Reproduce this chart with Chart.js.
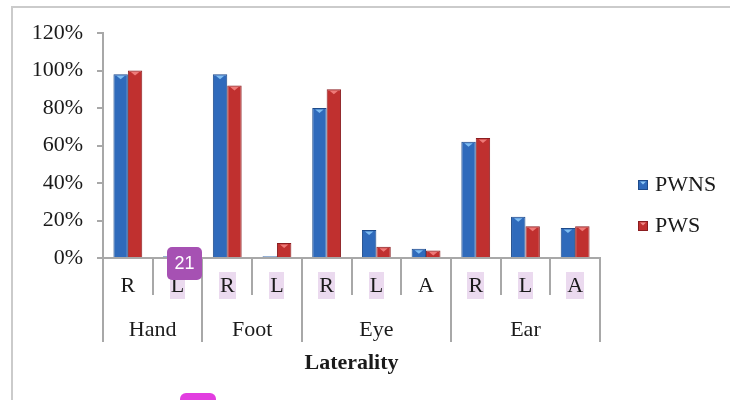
<!DOCTYPE html>
<html><head><meta charset="utf-8">
<script src="https://cdn.jsdelivr.net/npm/chart.js@4.4.1/dist/chart.umd.min.js"></script>
<style>html,body{margin:0;padding:0;background:#fff}#wrap{position:relative;width:730px;height:400px}</style>
</head><body><div id="wrap"><canvas id="c" width="730" height="400"></canvas></div>
<script>
const categories = ['R','L','R','L','R','L','A','R','L','A'];
const groups = ['Hand','Foot','Eye','Ear'];
const groupSizes = [2,2,3,3];
const seriesNames = ['PWNS','PWS'];
const pwns = [98,1,98,1,80,15,5,62,22,16];
const pws  = [100,0,92,8,90,6,4,64,17,17];
const yTicks = [0,20,40,60,80,100,120];
const highlighted = [1,2,3,4,5,7,8,9];
const axisTitle = 'Laterality';
const badgeText = '21';

const SERIF = '"Liberation Serif","Times New Roman",serif';
const FS = 22;
const TXT = '#1a1a1a';
const LINE = '#a8a8a8';

const deco = {
  id: 'deco',
  beforeDraw(chart) {
    const ctx = chart.ctx, xs = chart.scales.x, ca = chart.chartArea;
    ctx.save();
    ctx.fillStyle = '#fff'; ctx.fillRect(0, 0, chart.width, chart.height);
    ctx.strokeStyle = '#cbcbcb'; ctx.lineWidth = 2;
    ctx.strokeRect(12, 7, 760, 430);
    ctx.font = FS + 'px ' + SERIF;
    ctx.fillStyle = '#ebdaef';
    highlighted.forEach(i => {
      const cx = xs.getPixelForValue(i);
      const w = ctx.measureText(categories[i]).width + 2;
      ctx.fillRect(Math.round(cx - w / 2), ca.bottom + 14, Math.round(w), 27);
    });
    ctx.restore();
  },
  afterDatasetsDraw(chart) {
    const ctx = chart.ctx;
    const tops = ['#7fbdf2', '#ee7a78'];
    ctx.save();
    chart.data.datasets.forEach((ds, di) => {
      chart.getDatasetMeta(di).data.forEach(el => {
        const p = el.getProps(['x', 'y', 'base', 'width'], true);
        if (p.base - p.y < 6) return;
        ctx.fillStyle = tops[di];
        ctx.beginPath();
        ctx.moveTo(p.x - p.width / 2 + 3, p.y + 1.5);
        ctx.lineTo(p.x + p.width / 2 - 3, p.y + 1.5);
        ctx.lineTo(p.x, p.y + 5);
        ctx.closePath();
        ctx.fill();
      });
    });
    ctx.restore();
  },
  afterDraw(chart) {
    const ctx = chart.ctx, xs = chart.scales.x, ca = chart.chartArea;
    const half = (xs.getPixelForValue(1) - xs.getPixelForValue(0)) / 2;
    ctx.save();
    ctx.strokeStyle = LINE; ctx.lineWidth = 2;
    let start = 0;
    const groupEdges = [0];
    groupSizes.forEach(n => { start += n; groupEdges.push(start); });
    for (let i = 0; i <= categories.length; i++) {
      const xp = Math.round((i < categories.length ? xs.getPixelForValue(i) - half : xs.getPixelForValue(i - 1) + half));
      const isGroup = groupEdges.includes(i);
      ctx.beginPath();
      ctx.moveTo(xp, ca.bottom);
      ctx.lineTo(xp, ca.bottom + (isGroup ? 84 : 37));
      ctx.stroke();
    }
    ctx.fillStyle = TXT; ctx.font = FS + 'px ' + SERIF;
    ctx.textAlign = 'center'; ctx.textBaseline = 'middle';
    start = 0;
    groups.forEach((g, gi) => {
      const a = xs.getPixelForValue(start) - half;
      const b = xs.getPixelForValue(start + groupSizes[gi] - 1) + half;
      ctx.fillText(g, (a + b) / 2, ca.bottom + 72);
      start += groupSizes[gi];
    });
    const lx = 638;
    const ly = [185, 226];
    const fills = ['#2f6abb', '#c0302f'];
    const strokes = ['#1d4a8a', '#8a1d20'];
    chart.data.datasets.forEach((ds, di) => {
      ctx.fillStyle = fills[di];
      ctx.fillRect(lx, ly[di] - 5, 10, 10);
      ctx.strokeStyle = strokes[di]; ctx.lineWidth = 1;
      ctx.strokeRect(lx + 0.5, ly[di] - 4.5, 9, 9);
      ctx.fillStyle = di === 0 ? '#8cc6f5' : '#f08a88';
      ctx.beginPath();
      ctx.moveTo(lx + 2, ly[di] - 3.5); ctx.lineTo(lx + 8, ly[di] - 3.5); ctx.lineTo(lx + 5, ly[di] - 0.5);
      ctx.closePath(); ctx.fill();
      ctx.fillStyle = TXT; ctx.textAlign = 'left'; ctx.textBaseline = 'middle';
      ctx.font = FS + 'px ' + SERIF;
      ctx.fillText(ds.label, 655, ly[di]);
    });
    ctx.fillStyle = '#a651b3';
    ctx.beginPath(); ctx.roundRect(167, 247, 35, 33, 5); ctx.fill();
    ctx.fillStyle = '#ffffff'; ctx.font = '18px "Liberation Sans", Arial, sans-serif';
    ctx.textAlign = 'center'; ctx.textBaseline = 'middle';
    ctx.fillText(badgeText, 184.5, 264);
    ctx.fillStyle = '#e23de0';
    ctx.beginPath(); ctx.roundRect(180, 393, 36, 20, 6); ctx.fill();
    ctx.restore();
  }
};

new Chart(document.getElementById('c'), {
  type: 'bar',
  data: {
    labels: categories,
    datasets: [
      { label: seriesNames[0], data: pwns, backgroundColor: '#2f6abb', borderColor: '#1d4a8a', borderWidth: 1,
        categoryPercentage: 0.58, barPercentage: 1.0 },
      { label: seriesNames[1], data: pws, backgroundColor: '#c0302f', borderColor: '#8a1d20', borderWidth: 1,
        categoryPercentage: 0.58, barPercentage: 1.0 }
    ]
  },
  options: {
    responsive: false, animation: false, devicePixelRatio: 1,
    layout: { padding: { left: 14, top: 33, right: 130, bottom: 0 } },
    plugins: { legend: { display: false }, tooltip: { enabled: false } },
    scales: {
      x: {
        offset: true,
        grid: { drawOnChartArea: false, drawTicks: false },
        border: { display: true, color: LINE, width: 2 },
        ticks: { font: { family: SERIF, size: FS }, color: TXT, padding: 15, maxRotation: 0, autoSkip: false },
        title: { display: true, text: axisTitle, color: TXT, font: { family: SERIF, size: FS, weight: 'bold' }, padding: { top: 0, bottom: 23 } },
        afterFit: s => { s.height = 142; }
      },
      y: {
        min: 0, max: 120,
        afterBuildTicks: s => { s.ticks = yTicks.map(v => ({ value: v })); },
        grid: { drawOnChartArea: false, drawTicks: true, tickLength: 6, color: LINE, lineWidth: 2 },
        border: { display: true, color: LINE, width: 2 },
        ticks: { font: { family: SERIF, size: FS }, color: TXT, padding: 14, callback: v => v + '%' },
        afterFit: s => { s.width = 89; }
      }
    }
  },
  plugins: [deco]
});
</script></body></html>
